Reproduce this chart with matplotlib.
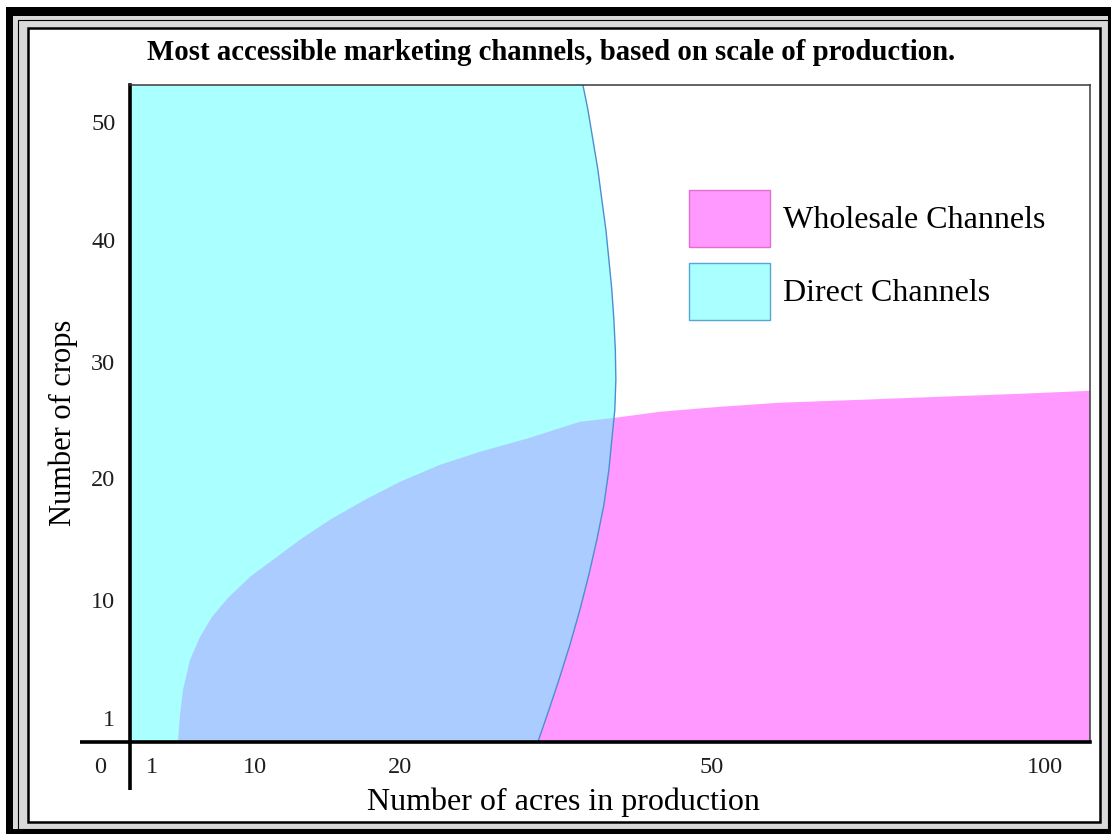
import numpy as np
import matplotlib
matplotlib.use("Agg")
import matplotlib.pyplot as plt
from matplotlib.patches import Polygon, Rectangle, Patch

# ---------------- data ----------------
TITLE = "Most accessible marketing channels, based on scale of production."
X_LABEL = "Number of acres in production"
Y_LABEL = "Number of crops"
SERIES = ["Wholesale Channels", "Direct Channels"]

X_TICKS = [1, 10, 20, 50, 100]
X_TICK_LABELS = ["1", "10", "20", "50", "100"]
Y_TICKS = [1, 10, 20, 30, 40, 50]
Y_TICK_LABELS = ["1", "10", "20", "30", "40", "50"]
ORIGIN_LABEL = "0"

X_MAX = 106.8   # acres at right edge of chart
Y_MAX = 53.1    # crops at top edge of chart

# Direct channels: right-hand boundary (acres, crops), bottom to top
DIRECT_ACRES = [33.27, 34.33, 35.29, 36.35, 37.31, 38.17, 38.94, 39.62, 40.10, 40.38,
                40.67, 40.77, 40.72, 40.58, 40.38, 40.10, 39.81, 39.42, 39.04, 38.56,
                38.08, 37.60]
DIRECT_CROPS = [0.0, 1.61, 3.90, 6.57, 9.24, 12.05, 14.92, 17.79, 20.69, 23.28,
                25.86, 28.45, 30.98, 33.44, 35.90, 38.36, 40.85, 43.39, 45.93, 48.47,
                51.02, 53.10]

# Wholesale channels: upper boundary (acres, crops), left to right
WHOLESALE_ACRES = [3.27, 3.45, 3.71, 4.32, 5.20, 6.24, 7.64, 9.57, 11.24, 13.10,
                   15.17, 17.59, 20.0, 23.85, 27.69, 32.50, 37.31, 40.67, 45.0, 51.2,
                   60.2, 72.2, 84.2, 96.3, 106.8]
WHOLESALE_CROPS = [0.0, 1.23, 3.14, 5.42, 7.18, 8.70, 10.16, 11.89, 13.28, 14.92,
                   16.56, 18.20, 19.67, 21.12, 22.24, 23.45, 24.83, 25.17, 25.69, 26.12,
                   26.47, 26.72, 26.98, 27.24, 27.50]

# ---------------- schematic (non-linear) axis scales ----------------
X_SCALE_VALUES = [0, 1, 10, 20, 50, 100, 120]
X_SCALE_SPAN = [0, 22, 125, 270, 582, 915, 1048.2]
Y_SCALE_VALUES = [0, 1, 10, 20, 30, 40, 50, 60]
Y_SCALE_SPAN = [0, 24, 142, 264, 380, 502, 620, 738]


def piecewise(src, dst):
    s = np.asarray(src, float)
    d = np.asarray(dst, float)

    def f(v):
        v = np.asarray(v, float)
        with np.errstate(all="ignore"):
            out = np.interp(v, s, d)
            out = np.where(v < s[0], d[0] + (v - s[0]) * (d[1] - d[0]) / (s[1] - s[0]), out)
            out = np.where(v > s[-1], d[-1] + (v - s[-1]) * (d[-1] - d[-2]) / (s[-1] - s[-2]), out)
        return out
    return f


x_fwd = piecewise(X_SCALE_VALUES, X_SCALE_SPAN)
x_inv = piecewise(X_SCALE_SPAN, X_SCALE_VALUES)
y_fwd = piecewise(Y_SCALE_VALUES, Y_SCALE_SPAN)
y_inv = piecewise(Y_SCALE_SPAN, Y_SCALE_VALUES)

# ---------------- styles ----------------
plt.rcParams["font.family"] = ["Liberation Serif", "DejaVu Serif"]
PINK = "#ff99ff"
CYAN = "#aaffff"
OVERLAP = "#aaccff"
EDGE_BLUE = "#4a8fd0"

W, H = 1111, 834
fig = plt.figure(figsize=(W / 100, H / 100), dpi=100)
fig.patch.set_facecolor("white")

# decorative frame (pixel coordinates)
bg = fig.add_axes([0, 0, 1, 1], zorder=0)
bg.set_xlim(0, W)
bg.set_ylim(H, 0)
bg.axis("off")
bg.add_patch(Rectangle((6, 7), W - 6, H - 7, facecolor="black", edgecolor="none"))
bg.add_patch(Rectangle((13, 16), 1095, 813, facecolor="#d9d9d9", edgecolor="none"))
bg.add_patch(Rectangle((17.5, 19.5), 1090, 809, facecolor="none", edgecolor="black", lw=0.8))
bg.add_patch(Rectangle((28, 28), 1072, 794, facecolor="white", edgecolor="black", lw=1.8))

# main chart area
L, R, T, B = 130, 1090, 85, 742
ax = fig.add_axes([L / W, 1 - B / H, (R - L) / W, (B - T) / H], zorder=1)
ax.set_xscale("function", functions=(x_fwd, x_inv))
ax.set_yscale("function", functions=(y_fwd, y_inv))
ax.set_xlim(0, X_MAX)
ax.set_ylim(0, Y_MAX)

# wholesale region
pink_pts = list(zip(WHOLESALE_ACRES, WHOLESALE_CROPS)) + [(X_MAX, 0)]
pink = Polygon(pink_pts, closed=True, facecolor=PINK, edgecolor="none", zorder=1)
ax.add_patch(pink)

# direct region
cyan_pts = [(0, 0)] + list(zip(DIRECT_ACRES, DIRECT_CROPS)) + [(0, Y_MAX)]
cyan = Polygon(cyan_pts, closed=True, facecolor=CYAN, edgecolor="none", zorder=1.1)
ax.add_patch(cyan)

# overlap of both regions
overlap = Polygon(pink_pts, closed=True, facecolor=OVERLAP, edgecolor="none", zorder=1.2)
ax.add_patch(overlap)
overlap.set_clip_path(cyan)

ax.plot(DIRECT_ACRES, DIRECT_CROPS, color=EDGE_BLUE, lw=1.0, zorder=1.3)

# spines
for s in ("left", "bottom"):
    ax.spines[s].set_linewidth(2.6)
    ax.spines[s].set_color("black")
for s in ("top", "right"):
    ax.spines[s].set_linewidth(1.1)
    ax.spines[s].set_color("#3a3a3a")

# extended axis lines beyond the origin
ax.plot([-(L - 80) / (R - L), 0], [0, 0], transform=ax.transAxes, color="black",
        lw=2.6, clip_on=False, solid_capstyle="butt")
ax.plot([0, 0], [0, -(790 - B) / (B - T)], transform=ax.transAxes, color="black",
        lw=2.6, clip_on=False, solid_capstyle="butt")

TICK_FS = 17.5
ax.set_xticks(X_TICKS, X_TICK_LABELS)
ax.set_yticks(Y_TICKS, Y_TICK_LABELS)
ax.minorticks_off()
ax.tick_params(axis="both", length=0, labelsize=TICK_FS, labelcolor="#1e1e1e")
ax.tick_params(axis="x", pad=10.5)
ax.tick_params(axis="y", pad=10.5)
ax.annotate(ORIGIN_LABEL, xy=(0, 0), xycoords="axes fraction", xytext=(-21.6, -18.5),
            textcoords="offset points", ha="center", va="center", fontsize=TICK_FS,
            color="#1e1e1e", annotation_clip=False)

# legend
handles = [Patch(facecolor=PINK, edgecolor="#e070d0", lw=1.0),
           Patch(facecolor=CYAN, edgecolor="#55a5d5", lw=1.0)]
leg = ax.legend(handles, SERIES, loc="upper left",
                bbox_to_anchor=((689 - L) / (R - L), (B - 190) / (B - T)),
                frameon=False, fontsize=23, handlelength=2.54, handleheight=2.36,
                labelspacing=0.5, handletextpad=0.41, borderpad=0, borderaxespad=0)

# titles
fig.text(551 / W, 1 - 53 / H, TITLE, ha="center", va="center", fontsize=20.7,
         fontweight="bold", color="black")
fig.text(563 / W, 1 - 802 / H, X_LABEL, ha="center", va="center", fontsize=23,
         color="black")
fig.text(63 / W, 1 - 423 / H, Y_LABEL, ha="center", va="center", fontsize=22,
         rotation=90, color="black")

fig.savefig("out.png", dpi=100)
